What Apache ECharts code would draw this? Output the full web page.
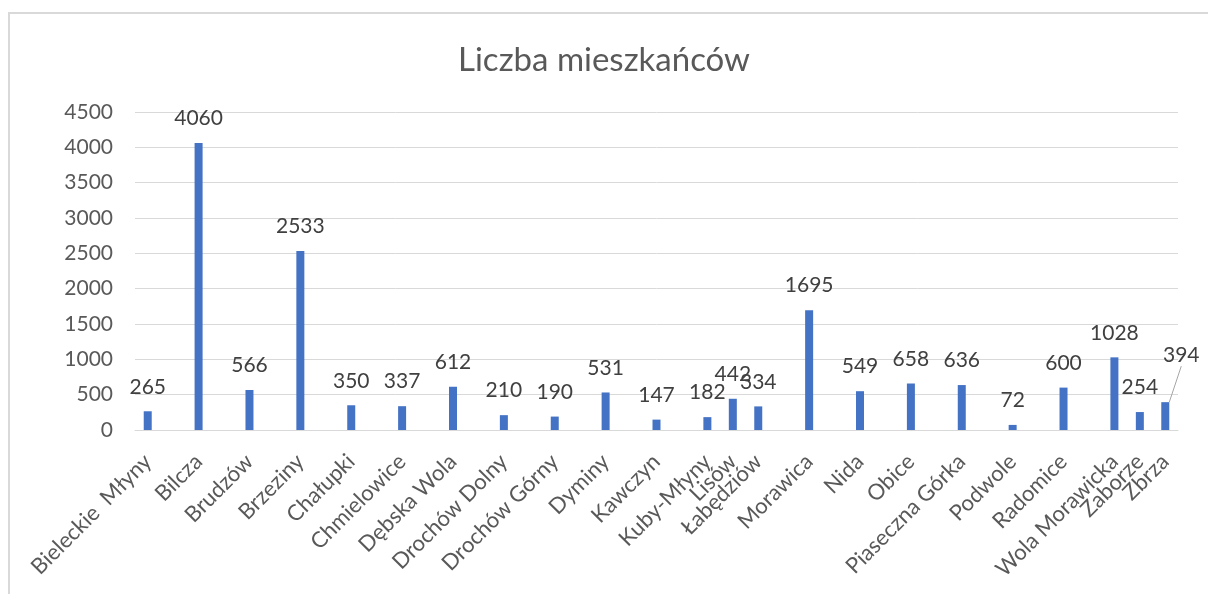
<!DOCTYPE html>
<html>
<head>
<meta charset="utf-8">
<script src="https://cdn.jsdelivr.net/npm/echarts@6/dist/echarts.min.js"></script>
<style>
  html, body { margin: 0; padding: 0; background: #fff; }
  #chart { width: 1208px; height: 594px; }
</style>
</head>
<body>
<div id="chart"></div>
<script>
// Excel category axis: blank slots keep the uneven spacing of the original
const categories = [
  "Bieleckie  Młyny", "", "Bilcza", "", "Brudzów", "", "Brzeziny", "",
  "Chałupki", "", "Chmielowice", "", "Dębska Wola", "", "Drochów Dolny", "",
  "Drochów Górny", "", "Dyminy", "", "Kawczyn", "", "Kuby-Młyny", "Lisów",
  "Łabędziów", "", "Morawica", "", "Nida", "", "Obice", "", "Piaseczna Górka", "",
  "Podwole", "", "Radomice", "", "Wola Morawicka", "Zaborze", "Zbrza",
];
const values = [
  265, null, 4060, null, 566, null, 2533, null,
  350, null, 337, null, 612, null, 210, null,
  190, null, 531, null, 147, null, 182, 442,
  334, null, 1695, null, 549, null, 658, null, 636, null,
  72, null, 600, null, 1028, 254, 394,
];
const yTicks = [0, 500, 1000, 1500, 2000, 2500, 3000, 3500, 4000, 4500];

const FONT = "Lato";
const movedLabel = categories.indexOf("Zbrza");
const chart = echarts.init(document.getElementById("chart"));

const barData = values.map((v, i) =>
  i === movedLabel
    ? { value: v, labelLine: { show: true, lineStyle: { color: "#a6a6a6", width: 1 } } }
    : v
);

const option = {
  backgroundColor: "#fff",
  animation: false,
  textStyle: { fontFamily: FONT },
  graphic: [{
    type: "rect",
    shape: { x: 9, y: 13, width: 1300, height: 700 },
    style: { fill: "none", stroke: "#d9d9d9", lineWidth: 2 },
    silent: true,
  }],
  title: {
    text: "Liczba mieszkańców",
    left: "center",
    top: 39,
    textStyle: { fontFamily: FONT, fontSize: 33, fontWeight: "normal", color: "#595959" },
  },
  grid: { left: 135, right: 30, top: 112, bottom: 164 },
  xAxis: {
    type: "category",
    data: categories,
    boundaryGap: true,
    axisLine: { lineStyle: { color: "#d9d9d9", width: 1 } },
    axisTick: { show: false },
    axisLabel: {
      interval: 0,
      rotate: 45,
      margin: 28,
      fontFamily: FONT,
      fontSize: 22,
      color: "#595959",
    },
  },
  yAxis: {
    type: "value",
    min: yTicks[0],
    max: yTicks[yTicks.length - 1],
    interval: 500,
    axisLine: { show: false },
    axisTick: { show: false },
    splitLine: { lineStyle: { color: "#d9d9d9", width: 1 } },
    axisLabel: {
      margin: 22,
      fontFamily: FONT,
      fontSize: 21,
      color: "#595959",
      formatter: (v) => String(v),
    },
  },
  series: [{
    type: "bar",
    data: barData,
    barWidth: 8,
    itemStyle: { color: "#4472C4" },
    label: {
      show: true,
      position: "top",
      distance: 14,
      fontFamily: FONT,
      fontSize: 21,
      color: "#404040",
    },
    labelLine: { show: false },
    labelLayout: (params) => {
      // Zbrza label pushed up and right, with a leader line as in Excel
      if (params.dataIndex === movedLabel) {
        return { dx: 16, dy: -22 };
      }
      return {};
    },
  }],
};

chart.setOption(option);
</script>
</body>
</html>
